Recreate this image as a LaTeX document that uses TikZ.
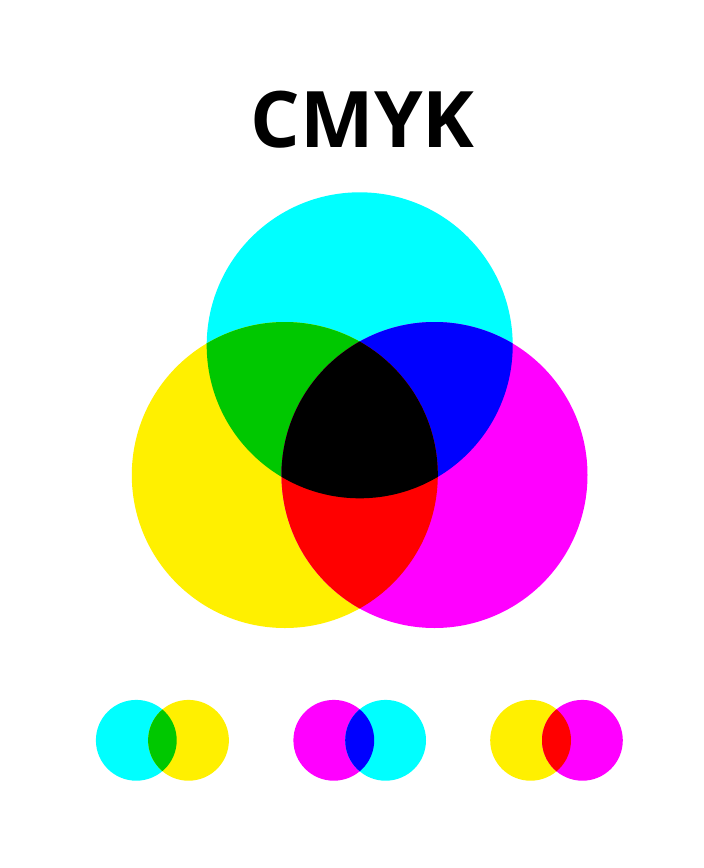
\documentclass[tikz,border=0pt]{standalone}
\usepackage{fontspec}
\setmainfont{Open Sans}
\definecolor{cmC}{RGB}{0,255,255}
\definecolor{cmM}{RGB}{255,0,255}
\definecolor{cmY}{RGB}{255,240,0}
\definecolor{cmG}{RGB}{0,200,0}
\definecolor{cmB}{RGB}{0,0,255}
\definecolor{cmR}{RGB}{255,0,0}
\definecolor{cmK}{RGB}{0,0,0}
\newcommand{\cmykdisc}[3]{\fill[#3] (#1) circle[radius=#2];}
\newcommand{\cmyklens}[4]{\begin{scope}\clip (#1) circle[radius=#3];\fill[#4] (#2) circle[radius=#3];\end{scope}}
\begin{document}
\begin{tikzpicture}[x=1pt,y=-1pt]
\useasboundingbox (0,0) rectangle (704,868);
\fill[white] (0,0) rectangle (704,868);
\node[font=\fontsize{78}{80}\selectfont\bfseries, anchor=base, inner sep=0pt] (title) at (362.7,147.3) {CMYK};
% big circles
\coordinate (bc) at (359.7,345.3);
\coordinate (by) at (284.8,475);
\coordinate (bm) at (434.5,475);
\def\R{153pt}
\cmykdisc{bc}{\R}{cmC}
\cmykdisc{by}{\R}{cmY}
\cmykdisc{bm}{\R}{cmM}
\cmyklens{bc}{by}{\R}{cmG}
\cmyklens{bc}{bm}{\R}{cmB}
\cmyklens{by}{bm}{\R}{cmR}
\begin{scope}
\clip (bc) circle[radius=\R];
\clip (by) circle[radius=\R];
\fill[cmK] (bm) circle[radius=\R];
\end{scope}
% small pairs
\def\r{40.4pt}
\coordinate (p1a) at (136.3,740.3);
\coordinate (p1b) at (188.5,740.3);
\coordinate (p2a) at (333.8,740.3);
\coordinate (p2b) at (385.6,740.3);
\coordinate (p3a) at (530.6,740.3);
\coordinate (p3b) at (582.4,740.3);
\cmykdisc{p1a}{\r}{cmC}
\cmykdisc{p1b}{\r}{cmY}
\cmyklens{p1a}{p1b}{\r}{cmG}
\cmykdisc{p2a}{\r}{cmM}
\cmykdisc{p2b}{\r}{cmC}
\cmyklens{p2a}{p2b}{\r}{cmB}
\cmykdisc{p3a}{\r}{cmY}
\cmykdisc{p3b}{\r}{cmM}
\cmyklens{p3a}{p3b}{\r}{cmR}
\end{tikzpicture}
\end{document}
